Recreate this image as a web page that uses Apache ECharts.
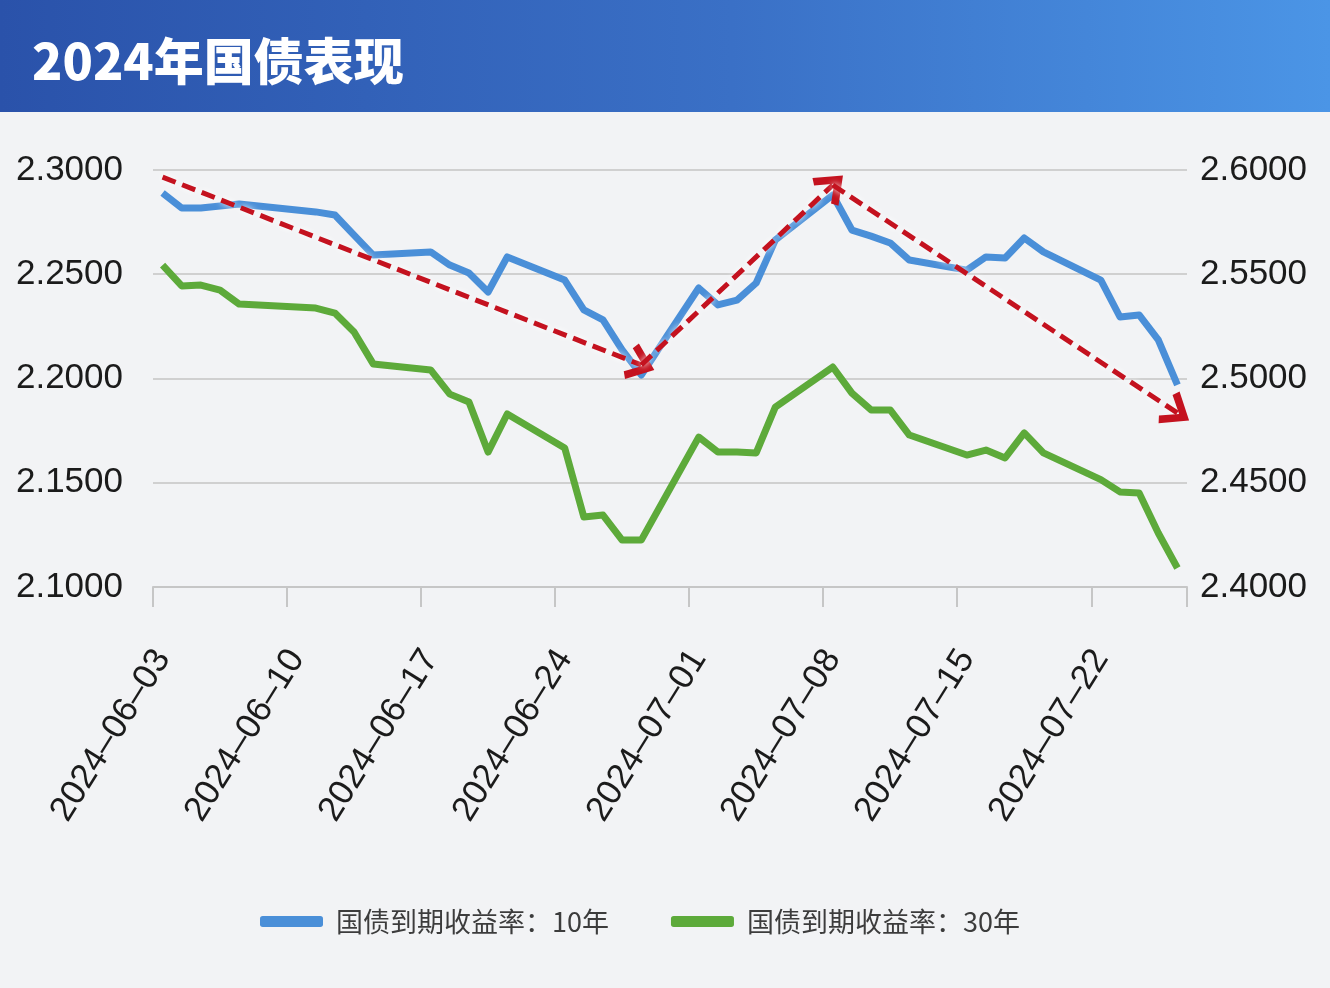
<!DOCTYPE html>
<html>
<head>
<meta charset="utf-8">
<title>2024年国债表现</title>
<script src="https://cdn.jsdelivr.net/npm/echarts@6/dist/echarts.min.js"></script>
<style>
html, body { margin: 0; padding: 0; background: #f2f3f5; }
#chart { width: 1330px; height: 988px; }
</style>
</head>
<body>
<div id="chart"></div>
<script>
// trading days (06-10 was a holiday)
const tradeDates = [
    '2024-06-03', '2024-06-04', '2024-06-05', '2024-06-06', '2024-06-07',
    '2024-06-11', '2024-06-12', '2024-06-13', '2024-06-14',
    '2024-06-17', '2024-06-18', '2024-06-19', '2024-06-20', '2024-06-21',
    '2024-06-24', '2024-06-25', '2024-06-26', '2024-06-27', '2024-06-28',
    '2024-07-01', '2024-07-02', '2024-07-03', '2024-07-04', '2024-07-05',
    '2024-07-08', '2024-07-09', '2024-07-10', '2024-07-11', '2024-07-12',
    '2024-07-15', '2024-07-16', '2024-07-17', '2024-07-18', '2024-07-19',
    '2024-07-22', '2024-07-23', '2024-07-24', '2024-07-25', '2024-07-26'
];
// 10年 (left axis)
const yield10 = [
    2.2890, 2.2818, 2.2818, 2.2827, 2.2837,
    2.2799, 2.2784, 2.2688, 2.2592,
    2.2607, 2.2544, 2.2506, 2.2415, 2.2583,
    2.2472, 2.2329, 2.2281, 2.2137, 2.2017,
    2.2434, 2.2353, 2.2376, 2.2458, 2.2664,
    2.2880, 2.2712, 2.2683, 2.2650, 2.2568,
    2.2520, 2.2583, 2.2578, 2.2674, 2.2607,
    2.2472, 2.2295, 2.2305, 2.2185, 2.1969
];
// 30年 (right axis)
const yield30 = [
    2.5544, 2.5444, 2.5448, 2.5424, 2.5357,
    2.5338, 2.5314, 2.5223, 2.5070,
    2.5041, 2.4925, 2.4887, 2.4647, 2.4830,
    2.4667, 2.4336, 2.4345, 2.4225, 2.4225,
    2.4719, 2.4647, 2.4647, 2.4643, 2.4863,
    2.5055, 2.4930, 2.4849, 2.4849, 2.4729,
    2.4633, 2.4657, 2.4619, 2.4739, 2.4643,
    2.4515, 2.4456, 2.4451, 2.4259, 2.4091
];
const axisStart = '2024-06-03', axisEnd = '2024-07-26';
const leftTicks = [2.1, 2.3, 0.05];   // min, max, interval
const rightTicks = [2.4, 2.6, 0.05];
const seriesNames = ['国债到期收益率：10年', '国债到期收益率：30年'];
// red dashed trend arrows: [from date, from value, to date, to value] on left axis
const trendArrows = [
    ['2024-06-03', 2.2966, '2024-06-28', 2.2065],
    ['2024-06-28', 2.2065, '2024-07-08', 2.2928],
    ['2024-07-08', 2.2928, '2024-07-26', 2.1835]
];

// calendar-day categories (Excel style date axis)
const days = [];
for (let t = Date.parse(axisStart); t <= Date.parse(axisEnd); t += 86400000) {
    days.push(new Date(t).toISOString().slice(0, 10));
}
const toDaily = (vals) => days.map(d => {
    const i = tradeDates.indexOf(d);
    return i < 0 ? null : vals[i];
});

// open arrow head, tip up (markLine turns it along the line)
const chevron = 'path://M0,24 L20,0 L40,24 L33,28 L20,12 L7,28 Z';
const arrowLines = trendArrows.map(a => [
    { coord: [a[0], a[1]] },
    { coord: [a[2], a[3]] }
]);

const chart = echarts.init(document.getElementById('chart'));
const numLabel = { fontSize: 35, color: '#1b1b1b', fontFamily: 'Liberation Sans, Arial, sans-serif' };

chart.setOption({
    backgroundColor: '#f2f3f5',
    animation: false,
    graphic: [
        {
            type: 'rect', left: 0, top: 0, z: 0,
            shape: { width: 1330, height: 112 },
            style: {
                fill: new echarts.graphic.LinearGradient(0, 0, 1, 0, [
                    { offset: 0, color: '#2a52aa' },
                    { offset: 0.55, color: '#3a70c6' },
                    { offset: 1, color: '#4b95e6' }
                ])
            }
        },
        {
            type: 'text', left: 32, top: 36, z: 1,
            style: {
                text: '2024年国债表现', fill: '#ffffff',
                font: '900 50px "Noto Sans CJK SC", sans-serif',
                shadowColor: 'rgba(0,0,0,0.35)', shadowBlur: 3, shadowOffsetX: 1, shadowOffsetY: 1
            }
        }
    ],
    grid: { left: 153, right: 143, top: 170, bottom: 401 },
    legend: {
        left: 255, top: 903,
        itemWidth: 63, itemHeight: 11, itemGap: 62,
        icon: 'roundRect',
        textStyle: { fontSize: 27, color: '#3c3c3c', fontFamily: 'Noto Sans CJK SC', padding: [0, 0, 0, 8] },
        data: seriesNames
    },
    xAxis: {
        type: 'category',
        data: days,
        boundaryGap: true,
        axisLine: { show: true, lineStyle: { color: '#c6c6c6', width: 2 } },
        axisTick: { show: true, interval: 6, length: 20, lineStyle: { color: '#c6c6c6', width: 2 } },
        axisLabel: Object.assign({}, numLabel, {
            interval: 6, rotate: 58, margin: 66,
            formatter: v => v.replace(/-/g, '\u2013')
        })
    },
    yAxis: [
        {
            type: 'value', min: leftTicks[0], max: leftTicks[1], interval: leftTicks[2],
            axisLine: { show: false }, axisTick: { show: false },
            splitLine: { lineStyle: { color: '#d0d0d0', width: 2 } },
            axisLabel: Object.assign({}, numLabel, { margin: 30, formatter: v => v.toFixed(4) })
        },
        {
            type: 'value', min: rightTicks[0], max: rightTicks[1], interval: rightTicks[2],
            axisLine: { show: false }, axisTick: { show: false }, splitLine: { show: false },
            axisLabel: Object.assign({}, numLabel, { margin: 13, formatter: v => v.toFixed(4) })
        }
    ],
    series: [
        {
            name: seriesNames[0], type: 'line', yAxisIndex: 0,
            data: toDaily(yield10), connectNulls: true,
            showSymbol: false, symbol: 'none',
            itemStyle: { color: '#4a8fd8' },
            lineStyle: { color: '#4a8fd8', width: 7, join: 'round' },
            z: 3,
            markLine: {
                silent: true, animation: false,
                symbol: ['none', chevron], symbolSize: [38, 28],
                label: { show: false },
                lineStyle: {
                    color: '#c4121f', width: 5, type: [14, 7],
                    shadowColor: 'rgba(255,255,255,0.95)', shadowBlur: 6
                },
                emphasis: { disabled: true },
                data: arrowLines
            }
        },
        {
            name: seriesNames[1], type: 'line', yAxisIndex: 1,
            data: toDaily(yield30), connectNulls: true,
            showSymbol: false, symbol: 'none',
            itemStyle: { color: '#5daa3a' },
            lineStyle: { color: '#5daa3a', width: 7, join: 'round' },
            z: 2
        }
    ]
});
</script>
</body>
</html>
